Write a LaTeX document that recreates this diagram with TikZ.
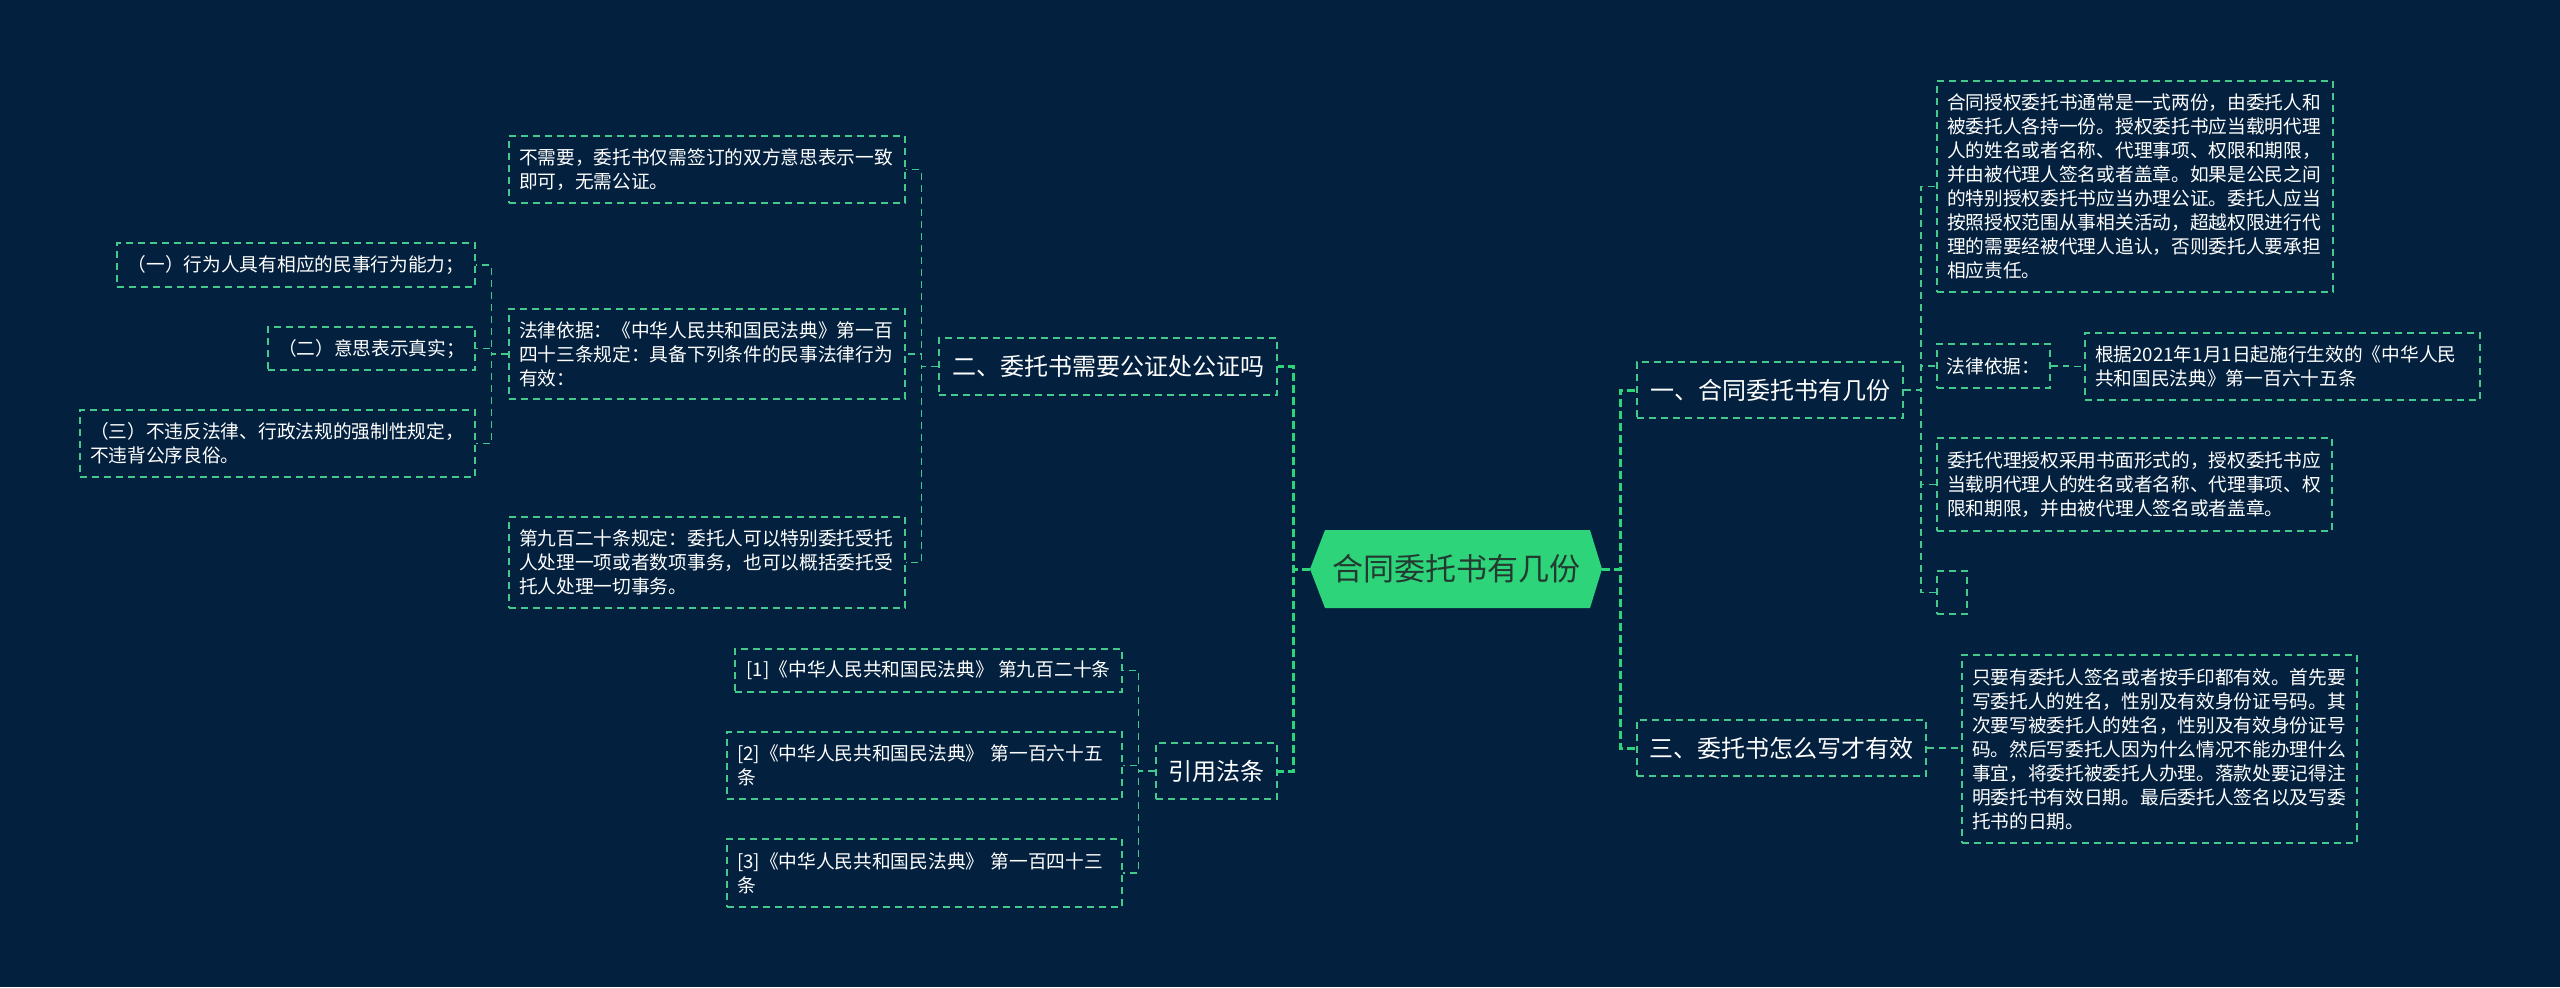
\documentclass[tikz,border=0pt]{standalone}
\usepackage{fontspec}
\setmainfont{Noto Sans CJK SC}
\usetikzlibrary{calc}
\definecolor{bgc}{HTML}{03213E}
\definecolor{hexc}{HTML}{2ED47A}
\definecolor{linec}{HTML}{2ED47A}
\definecolor{boxc}{HTML}{43C98C}
\definecolor{roottext}{HTML}{233A30}
\tikzset{
  box/.style={draw=boxc, line width=0.75pt, dash pattern=on 3.5pt off 2.5pt, text=white, align=left, inner sep=0pt, font=\fontsize{9.35pt}{12pt}\selectfont},
  lvl/.style={box, font=\fontsize{12pt}{14pt}\selectfont},
  mainline/.style={draw=linec, line width=1.5pt, dash pattern=on 4pt off 2pt},
  subline/.style={draw=boxc, line width=0.75pt, dash pattern=on 3.5pt off 2.5pt},
}
\begin{document}
\begin{tikzpicture}[x=0.5pt,y=-0.5pt]
\useasboundingbox (0,0) rectangle (2560,987);
\fill[bgc] (0,0) rectangle (2560,987);

% root
\coordinate (rc) at (1456,569);
\fill[hexc] ($(rc)+(-146,0)$) -- ($(rc)+(-131,-39)$) -- ($(rc)+(134,-39)$) -- ($(rc)+(146,0)$) -- ($(rc)+(134,39)$) -- ($(rc)+(-131,39)$) -- cycle;
\node[minimum width=146pt, minimum height=39pt, inner sep=0pt, text=roottext, font=\fontsize{15.5pt}{18pt}\selectfont] (root) at (rc) {合同委托书有几份};

% level 1
\node[lvl, minimum width=133pt, minimum height=28pt] (b1) at (1770,390) {一、合同委托书有几份};
\node[lvl, minimum width=144.5pt, minimum height=28pt] (b3) at (1781.5,748) {三、委托书怎么写才有效};
\node[lvl, minimum width=169pt, minimum height=28.5pt] (b2) at (1108,366.5) {二、委托书需要公证处公证吗};
\node[lvl, minimum width=60.5pt, minimum height=28pt] (b4) at (1216.5,771) {引用法条};

% children of b1
\node[box, text width=188pt, minimum width=198pt, minimum height=105.5pt] (r1) at (2135,186.5) {合同授权委托书通常是一式两份，由委托人和\\被委托人各持一份。授权委托书应当载明代理\\人的姓名或者名称、代理事项、权限和期限，\\并由被代理人签名或者盖章。如果是公民之间\\的特别授权委托书应当办理公证。委托人应当\\按照授权范围从事相关活动，超越权限进行代\\理的需要经被代理人追认，否则委托人要承担\\相应责任。};
\node[box, minimum width=56.5pt, minimum height=22pt] (r2) at (1993.5,366) {法律依据：};
\node[box, text width=187.5pt, minimum width=197.5pt, minimum height=33.5pt] (r2a) at (2282.5,366.5) {根据2021年1月1日起施行生效的《中华人民\\共和国民法典》第一百六十五条};
\node[box, text width=187.5pt, minimum width=197.5pt, minimum height=46.5pt] (r3) at (2134.5,484.5) {委托代理授权采用书面形式的，授权委托书应\\当载明代理人的姓名或者名称、代理事项、权\\限和期限，并由被代理人签名或者盖章。};
\node[box, minimum width=15pt, minimum height=21.5pt] (r4) at (1952,592.5) {};

% child of b3
\node[box, text width=187.5pt, minimum width=197.5pt, minimum height=94pt] (t1) at (2159.5,749) {只要有委托人签名或者按手印都有效。首先要\\写委托人的姓名，性别及有效身份证号码。其\\次要写被委托人的姓名，性别及有效身份证号\\码。然后写委托人因为什么情况不能办理什么\\事宜，将委托被委托人办理。落款处要记得注\\明委托书有效日期。最后委托人签名以及写委\\托书的日期。};

% children of b2
\node[box, text width=188pt, minimum width=198pt, minimum height=33.5pt] (l1) at (707,169.5) {不需要，委托书仅需签订的双方意思表示一致\\即可，无需公证。};
\node[box, text width=188pt, minimum width=198pt, minimum height=45pt] (l2) at (707,354) {法律依据：《中华人民共和国民法典》第一百\\四十三条规定：具备下列条件的民事法律行为\\有效：};
\node[box, text width=188pt, minimum width=198pt, minimum height=45.5pt] (l3) at (707,562.5) {第九百二十条规定：委托人可以特别委托受托\\人处理一项或者数项事务，也可以概括委托受\\托人处理一切事务。};

% children of l2
\node[box, minimum width=179pt, minimum height=22pt] (m1) at (296,265) {（一）行为人具有相应的民事行为能力；};
\node[box, minimum width=103.5pt, minimum height=21.5pt] (m2) at (371.5,348.5) {（二）意思表示真实；};
\node[box, text width=187.5pt, minimum width=197.5pt, minimum height=33.5pt] (m3) at (277.5,443.5) {（三）不违反法律、行政法规的强制性规定，\\不违背公序良俗。};

% children of b4
\node[box, minimum width=193.5pt, minimum height=21.5pt] (c1) at (928.5,670.5) {[1]《中华人民共和国民法典》 第九百二十条};
\node[box, text width=187.5pt, minimum width=197.5pt, minimum height=33.5pt] (c2) at (924.5,765.5) {[2]《中华人民共和国民法典》 第一百六十五\\条};
\node[box, text width=187.5pt, minimum width=197.5pt, minimum height=34pt] (c3) at (924.5,873) {[3]《中华人民共和国民法典》 第一百四十三\\条};

% main connectors
\draw[mainline] (root.east) -- ++(18,0) |- (b1.west);
\draw[mainline] (root.east) -- ++(18,0) |- (b3.west);
\draw[mainline] (root.west) -- ++(-16,0) |- (b2.east);
\draw[mainline] (root.west) -- ++(-16,0) |- (b4.east);

% sub connectors right
\foreach \c in {r1,r2,r3,r4} \draw[subline] (b1.east) -- ++(17,0) |- (\c.west);
\draw[subline] (r2.east) -- ++(17,0) |- (r2a.west);
\draw[subline] (b3.east) -- (t1.west |- b3.east);

% sub connectors left
\foreach \c in {l1,l2,l3} \draw[subline] (b2.west) -- ++(-17,0) |- (\c.east);
\foreach \c in {m1,m2,m3} \draw[subline] (l2.west) -- ++(-17,0) |- (\c.east);
\foreach \c in {c1,c2,c3} \draw[subline] (b4.west) -- ++(-17,0) |- (\c.east);
\end{tikzpicture}
\end{document}
